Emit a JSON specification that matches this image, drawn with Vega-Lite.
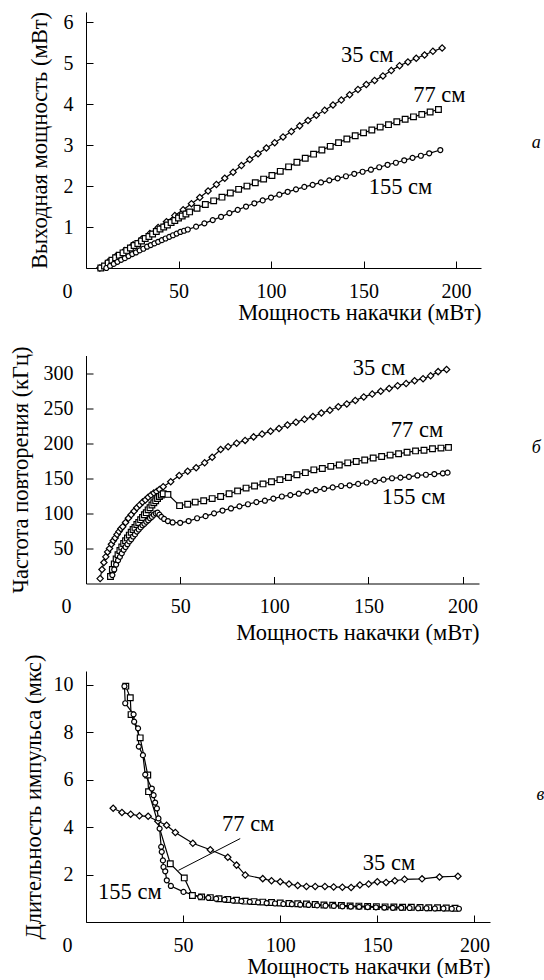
{
  "$schema": "https://vega.github.io/schema/vega-lite/v6.json",
  "background": "white",
  "padding": {"left": 8, "top": 11, "right": 0, "bottom": 0},
  "bounds": "flush",
  "spacing": 87.5,
  "config": {
    "view": {"stroke": null},
    "font": "Liberation Serif, DejaVu Serif, serif",
    "axis": {
      "domainColor": "black", "tickColor": "black", "labelColor": "black", "titleColor": "black",
      "labelFont": "Liberation Serif, DejaVu Serif, serif", "titleFont": "Liberation Serif, DejaVu Serif, serif",
      "labelFontSize": 20, "titleFontSize": 22.5, "titleFontWeight": "normal",
      "grid": false, "tickSize": -7, "domainWidth": 1, "tickWidth": 1,
      "labelOverlap": false
    },
    "text": {"font": "Liberation Serif, DejaVu Serif, serif", "color": "black"}
  },
  "datasets": {
    "a": [
      {"s":"35 см","x":7.5,"y":0},{"s":"35 см","x":12,"y":0.15},{"s":"35 см","x":16.5,"y":0.3},{"s":"35 см","x":21,"y":0.43},{"s":"35 см","x":25.5,"y":0.57},{"s":"35 см","x":30,"y":0.7},{"s":"35 см","x":34.5,"y":0.84},{"s":"35 см","x":39,"y":0.99},{"s":"35 см","x":43.5,"y":1.13},{"s":"35 см","x":48,"y":1.28},{"s":"35 см","x":52.5,"y":1.42},{"s":"35 см","x":57,"y":1.57},{"s":"35 см","x":61.5,"y":1.72},{"s":"35 см","x":66,"y":1.88},{"s":"35 см","x":70.5,"y":2.04},{"s":"35 см","x":75,"y":2.19},{"s":"35 см","x":79.5,"y":2.34},{"s":"35 см","x":84,"y":2.5},{"s":"35 см","x":88.5,"y":2.65},{"s":"35 см","x":93,"y":2.79},{"s":"35 см","x":97.5,"y":2.93},{"s":"35 см","x":102,"y":3.06},{"s":"35 см","x":106.5,"y":3.2},{"s":"35 см","x":111,"y":3.33},{"s":"35 см","x":115.5,"y":3.47},{"s":"35 см","x":120,"y":3.6},{"s":"35 см","x":124.5,"y":3.73},{"s":"35 см","x":129,"y":3.85},{"s":"35 см","x":133.5,"y":3.98},{"s":"35 см","x":138,"y":4.1},{"s":"35 см","x":142.5,"y":4.23},{"s":"35 см","x":147,"y":4.36},{"s":"35 см","x":151.5,"y":4.48},{"s":"35 см","x":156,"y":4.58},{"s":"35 см","x":160.5,"y":4.69},{"s":"35 см","x":165,"y":4.82},{"s":"35 см","x":169.5,"y":4.94},{"s":"35 см","x":174,"y":5.03},{"s":"35 см","x":178.5,"y":5.12},{"s":"35 см","x":183,"y":5.2},{"s":"35 см","x":187.5,"y":5.29},{"s":"35 см","x":192.5,"y":5.37},
      {"s":"77 см","x":8,"y":0},{"s":"77 см","x":10,"y":0.05},{"s":"77 см","x":12,"y":0.12},{"s":"77 см","x":14,"y":0.19},{"s":"77 см","x":16,"y":0.25},{"s":"77 см","x":18,"y":0.31},{"s":"77 см","x":20,"y":0.37},{"s":"77 см","x":22,"y":0.43},{"s":"77 см","x":24,"y":0.49},{"s":"77 см","x":26,"y":0.55},{"s":"77 см","x":28,"y":0.6},{"s":"77 см","x":30,"y":0.66},{"s":"77 см","x":32,"y":0.72},{"s":"77 см","x":34,"y":0.77},{"s":"77 см","x":36,"y":0.83},{"s":"77 см","x":38,"y":0.89},{"s":"77 см","x":40,"y":0.95},{"s":"77 см","x":42,"y":1.0},{"s":"77 см","x":44,"y":1.05},{"s":"77 см","x":46,"y":1.11},{"s":"77 см","x":48,"y":1.16},{"s":"77 см","x":50,"y":1.22},{"s":"77 см","x":52,"y":1.27},{"s":"77 см","x":54,"y":1.32},{"s":"77 см","x":56,"y":1.37},{"s":"77 см","x":60,"y":1.46},{"s":"77 см","x":64.5,"y":1.55},{"s":"77 см","x":69,"y":1.64},{"s":"77 см","x":73.5,"y":1.73},{"s":"77 см","x":78,"y":1.83},{"s":"77 см","x":82.5,"y":1.92},{"s":"77 см","x":87,"y":2.0},{"s":"77 см","x":91.5,"y":2.08},{"s":"77 см","x":96,"y":2.17},{"s":"77 см","x":100.5,"y":2.26},{"s":"77 см","x":105,"y":2.36},{"s":"77 см","x":109.5,"y":2.47},{"s":"77 см","x":114,"y":2.58},{"s":"77 см","x":118.5,"y":2.68},{"s":"77 см","x":123,"y":2.78},{"s":"77 см","x":127.5,"y":2.88},{"s":"77 см","x":132,"y":2.97},{"s":"77 см","x":136.5,"y":3.06},{"s":"77 см","x":141,"y":3.15},{"s":"77 см","x":145.5,"y":3.23},{"s":"77 см","x":150,"y":3.3},{"s":"77 см","x":154.5,"y":3.37},{"s":"77 см","x":159,"y":3.44},{"s":"77 см","x":163.5,"y":3.5},{"s":"77 см","x":168,"y":3.57},{"s":"77 см","x":172.5,"y":3.63},{"s":"77 см","x":177,"y":3.69},{"s":"77 см","x":181.5,"y":3.75},{"s":"77 см","x":186,"y":3.81},{"s":"77 см","x":190.5,"y":3.87},
      {"s":"155 см","x":11,"y":0},{"s":"155 см","x":13,"y":0.05},{"s":"155 см","x":15,"y":0.1},{"s":"155 см","x":17,"y":0.15},{"s":"155 см","x":19,"y":0.2},{"s":"155 см","x":21,"y":0.24},{"s":"155 см","x":23,"y":0.29},{"s":"155 см","x":25,"y":0.34},{"s":"155 см","x":27,"y":0.38},{"s":"155 см","x":29,"y":0.43},{"s":"155 см","x":31,"y":0.47},{"s":"155 см","x":33,"y":0.52},{"s":"155 см","x":35,"y":0.56},{"s":"155 см","x":37,"y":0.6},{"s":"155 см","x":39,"y":0.64},{"s":"155 см","x":41,"y":0.68},{"s":"155 см","x":43,"y":0.72},{"s":"155 см","x":45,"y":0.76},{"s":"155 см","x":47,"y":0.8},{"s":"155 см","x":49,"y":0.84},{"s":"155 см","x":51,"y":0.88},{"s":"155 см","x":53,"y":0.91},{"s":"155 см","x":55,"y":0.94},{"s":"155 см","x":59.5,"y":1.01},{"s":"155 см","x":64,"y":1.09},{"s":"155 см","x":68.5,"y":1.17},{"s":"155 см","x":73,"y":1.25},{"s":"155 см","x":77.5,"y":1.34},{"s":"155 см","x":82,"y":1.42},{"s":"155 см","x":86.5,"y":1.5},{"s":"155 см","x":91,"y":1.58},{"s":"155 см","x":95.5,"y":1.65},{"s":"155 см","x":100,"y":1.72},{"s":"155 см","x":104.5,"y":1.79},{"s":"155 см","x":109,"y":1.86},{"s":"155 см","x":113.5,"y":1.92},{"s":"155 см","x":118,"y":1.98},{"s":"155 см","x":122.5,"y":2.03},{"s":"155 см","x":127,"y":2.09},{"s":"155 см","x":131.5,"y":2.14},{"s":"155 см","x":136,"y":2.19},{"s":"155 см","x":140.5,"y":2.24},{"s":"155 см","x":145,"y":2.3},{"s":"155 см","x":149.5,"y":2.35},{"s":"155 см","x":154,"y":2.4},{"s":"155 см","x":158.5,"y":2.46},{"s":"155 см","x":163,"y":2.52},{"s":"155 см","x":167.5,"y":2.57},{"s":"155 см","x":172,"y":2.63},{"s":"155 см","x":176.5,"y":2.69},{"s":"155 см","x":181,"y":2.74},{"s":"155 см","x":185.5,"y":2.8},{"s":"155 см","x":191.5,"y":2.88}
    ],
    "b": [
      {"s":"35 см","x":7.5,"y":7},{"s":"35 см","x":8.5,"y":20},{"s":"35 см","x":9.5,"y":30},{"s":"35 см","x":10.5,"y":38},{"s":"35 см","x":11.5,"y":45},{"s":"35 см","x":12.5,"y":50},{"s":"35 см","x":13.5,"y":56},{"s":"35 см","x":14.5,"y":61},{"s":"35 см","x":15.5,"y":65},{"s":"35 см","x":16.5,"y":70},{"s":"35 см","x":17.5,"y":74},{"s":"35 см","x":18.5,"y":78},{"s":"35 см","x":19.5,"y":81},{"s":"35 см","x":21,"y":87},{"s":"35 см","x":22.5,"y":93},{"s":"35 см","x":24,"y":98},{"s":"35 см","x":25.5,"y":103},{"s":"35 см","x":27,"y":108},{"s":"35 см","x":28.5,"y":112},{"s":"35 см","x":30,"y":116},{"s":"35 см","x":31.5,"y":119},{"s":"35 см","x":33,"y":123},{"s":"35 см","x":34.5,"y":126},{"s":"35 см","x":36,"y":129},{"s":"35 см","x":37.5,"y":131},{"s":"35 см","x":39,"y":134},{"s":"35 см","x":41,"y":138},{"s":"35 см","x":45,"y":145},{"s":"35 см","x":49.5,"y":154},{"s":"35 см","x":54,"y":160},{"s":"35 см","x":58.5,"y":165},{"s":"35 см","x":63,"y":172},{"s":"35 см","x":67,"y":180},{"s":"35 см","x":71.5,"y":191},{"s":"35 см","x":75.5,"y":195},{"s":"35 см","x":80,"y":200},{"s":"35 см","x":84.5,"y":204},{"s":"35 см","x":89,"y":209},{"s":"35 см","x":93.5,"y":213},{"s":"35 см","x":98,"y":217},{"s":"35 см","x":102.5,"y":221},{"s":"35 см","x":107,"y":226},{"s":"35 см","x":111.5,"y":230},{"s":"35 см","x":116,"y":234},{"s":"35 см","x":120.5,"y":238},{"s":"35 см","x":125,"y":243},{"s":"35 см","x":129.5,"y":247},{"s":"35 см","x":134,"y":252},{"s":"35 см","x":138.5,"y":256},{"s":"35 см","x":143,"y":261},{"s":"35 см","x":147.5,"y":266},{"s":"35 см","x":152,"y":270},{"s":"35 см","x":156.5,"y":274},{"s":"35 см","x":161,"y":278},{"s":"35 см","x":165.5,"y":282},{"s":"35 см","x":170,"y":285},{"s":"35 см","x":174.5,"y":289},{"s":"35 см","x":179,"y":292},{"s":"35 см","x":183,"y":296},{"s":"35 см","x":187,"y":302},{"s":"35 см","x":191.5,"y":305},
      {"s":"77 см","x":13,"y":10},{"s":"77 см","x":14,"y":20},{"s":"77 см","x":15,"y":28},{"s":"77 см","x":16,"y":35},{"s":"77 см","x":17,"y":41},{"s":"77 см","x":18,"y":47},{"s":"77 см","x":19,"y":52},{"s":"77 см","x":20,"y":57},{"s":"77 см","x":21,"y":61},{"s":"77 см","x":22,"y":65},{"s":"77 см","x":23,"y":69},{"s":"77 см","x":24,"y":73},{"s":"77 см","x":25,"y":77},{"s":"77 см","x":26,"y":80},{"s":"77 см","x":27,"y":84},{"s":"77 см","x":28,"y":87},{"s":"77 см","x":29,"y":91},{"s":"77 см","x":30,"y":94},{"s":"77 см","x":31,"y":98},{"s":"77 см","x":32,"y":101},{"s":"77 см","x":33,"y":105},{"s":"77 см","x":34,"y":108},{"s":"77 см","x":35,"y":112},{"s":"77 см","x":36,"y":115},{"s":"77 см","x":37,"y":118},{"s":"77 см","x":38,"y":121},{"s":"77 см","x":39,"y":124},{"s":"77 см","x":40,"y":126},{"s":"77 см","x":41,"y":128},{"s":"77 см","x":43.5,"y":127},{"s":"77 см","x":49.7,"y":111},{"s":"77 см","x":54,"y":113},{"s":"77 см","x":58,"y":116},{"s":"77 см","x":62.5,"y":118},{"s":"77 см","x":67,"y":121},{"s":"77 см","x":71.5,"y":124},{"s":"77 см","x":76,"y":128},{"s":"77 см","x":80.5,"y":132},{"s":"77 см","x":85,"y":136},{"s":"77 см","x":89.5,"y":139},{"s":"77 см","x":94,"y":142},{"s":"77 см","x":98.5,"y":145},{"s":"77 см","x":103,"y":148},{"s":"77 см","x":107.5,"y":151},{"s":"77 см","x":112,"y":155},{"s":"77 см","x":116.5,"y":158},{"s":"77 см","x":121,"y":162},{"s":"77 см","x":125.5,"y":164},{"s":"77 см","x":130,"y":167},{"s":"77 см","x":134.5,"y":169},{"s":"77 см","x":139,"y":172},{"s":"77 см","x":143.5,"y":174},{"s":"77 см","x":148,"y":176},{"s":"77 см","x":152.5,"y":179},{"s":"77 см","x":157,"y":181},{"s":"77 см","x":161.5,"y":183},{"s":"77 см","x":166,"y":185},{"s":"77 см","x":170.5,"y":187},{"s":"77 см","x":175,"y":189},{"s":"77 см","x":179.5,"y":190},{"s":"77 см","x":184,"y":192},{"s":"77 см","x":188.5,"y":193},{"s":"77 см","x":192.5,"y":194},
      {"s":"155 см","x":14,"y":12},{"s":"155 см","x":15,"y":20},{"s":"155 см","x":16,"y":27},{"s":"155 см","x":17,"y":33},{"s":"155 см","x":18,"y":38},{"s":"155 см","x":19,"y":43},{"s":"155 см","x":20,"y":48},{"s":"155 см","x":21,"y":52},{"s":"155 см","x":22,"y":56},{"s":"155 см","x":23,"y":60},{"s":"155 см","x":24,"y":63},{"s":"155 см","x":25,"y":67},{"s":"155 см","x":26,"y":70},{"s":"155 см","x":27,"y":74},{"s":"155 см","x":28,"y":77},{"s":"155 см","x":29,"y":80},{"s":"155 см","x":30,"y":83},{"s":"155 см","x":31,"y":85},{"s":"155 см","x":32,"y":88},{"s":"155 см","x":33,"y":90},{"s":"155 см","x":34,"y":93},{"s":"155 см","x":35,"y":95},{"s":"155 см","x":36,"y":98},{"s":"155 см","x":37,"y":100},{"s":"155 см","x":38,"y":101},{"s":"155 см","x":39,"y":98},{"s":"155 см","x":40,"y":95},{"s":"155 см","x":41.5,"y":92},{"s":"155 см","x":43.5,"y":89},{"s":"155 см","x":46,"y":87},{"s":"155 см","x":50,"y":86.5},{"s":"155 см","x":54.5,"y":89},{"s":"155 см","x":59,"y":93},{"s":"155 см","x":63.5,"y":96},{"s":"155 см","x":68,"y":100},{"s":"155 см","x":72.5,"y":104},{"s":"155 см","x":77,"y":107},{"s":"155 см","x":81.5,"y":110},{"s":"155 см","x":86,"y":113},{"s":"155 см","x":90.5,"y":116},{"s":"155 см","x":95,"y":118},{"s":"155 см","x":99.5,"y":121},{"s":"155 см","x":104,"y":124},{"s":"155 см","x":108.5,"y":126},{"s":"155 см","x":113,"y":128},{"s":"155 см","x":117.5,"y":131},{"s":"155 см","x":122,"y":133},{"s":"155 см","x":126.5,"y":135},{"s":"155 см","x":131,"y":137},{"s":"155 см","x":135.5,"y":139},{"s":"155 см","x":140,"y":140},{"s":"155 см","x":144.5,"y":142},{"s":"155 см","x":149,"y":144},{"s":"155 см","x":153.5,"y":146},{"s":"155 см","x":158,"y":148},{"s":"155 см","x":162.5,"y":150},{"s":"155 см","x":167,"y":151},{"s":"155 см","x":171.5,"y":152},{"s":"155 см","x":176,"y":154},{"s":"155 см","x":180.5,"y":155},{"s":"155 см","x":185,"y":156},{"s":"155 см","x":189.5,"y":157},{"s":"155 см","x":192,"y":158}
    ],
    "c": [
      {"s":"35 см","x":14,"y":4.8},{"s":"35 см","x":18.5,"y":4.62},{"s":"35 см","x":23,"y":4.55},{"s":"35 см","x":27.5,"y":4.48},{"s":"35 см","x":32,"y":4.46},{"s":"35 см","x":37,"y":4.25},{"s":"35 см","x":41.5,"y":4.08},{"s":"35 см","x":46,"y":3.78},{"s":"35 см","x":55,"y":3.32},{"s":"35 см","x":64,"y":3.05},{"s":"35 см","x":73,"y":2.73},{"s":"35 см","x":77.5,"y":2.4},{"s":"35 см","x":82,"y":1.98},{"s":"35 см","x":91,"y":1.83},{"s":"35 см","x":95.5,"y":1.74},{"s":"35 см","x":100,"y":1.7},{"s":"35 см","x":104.5,"y":1.6},{"s":"35 см","x":109,"y":1.54},{"s":"35 см","x":113.5,"y":1.5},{"s":"35 см","x":118,"y":1.5},{"s":"35 см","x":123,"y":1.5},{"s":"35 см","x":127.5,"y":1.48},{"s":"35 см","x":132,"y":1.47},{"s":"35 см","x":136.5,"y":1.46},{"s":"35 см","x":141,"y":1.56},{"s":"35 см","x":145.5,"y":1.6},{"s":"35 см","x":150,"y":1.7},{"s":"35 см","x":154.5,"y":1.67},{"s":"35 см","x":159,"y":1.74},{"s":"35 см","x":164,"y":1.8},{"s":"35 см","x":173,"y":1.82},{"s":"35 см","x":182,"y":1.9},{"s":"35 см","x":191.5,"y":1.93},
      {"s":"77 см","x":20.5,"y":9.95},{"s":"77 см","x":22.8,"y":9.46},{"s":"77 см","x":23.2,"y":8.75},{"s":"77 см","x":27.9,"y":7.77},{"s":"77 см","x":31.8,"y":6.2},{"s":"77 см","x":32.2,"y":5.5},{"s":"77 см","x":43.4,"y":2.46},{"s":"77 см","x":50.6,"y":1.86},{"s":"77 см","x":54.8,"y":1.12},{"s":"77 см","x":59.5,"y":1.06},{"s":"77 см","x":64,"y":1.03},{"s":"77 см","x":68.5,"y":0.98},{"s":"77 см","x":73,"y":0.95},{"s":"77 см","x":77.5,"y":0.92},{"s":"77 см","x":82,"y":0.88},{"s":"77 см","x":86.5,"y":0.86},{"s":"77 см","x":91,"y":0.84},{"s":"77 см","x":95.5,"y":0.82},{"s":"77 см","x":100,"y":0.8},{"s":"77 см","x":104.5,"y":0.78},{"s":"77 см","x":109,"y":0.77},{"s":"77 см","x":113.5,"y":0.76},{"s":"77 см","x":118,"y":0.74},{"s":"77 см","x":122.5,"y":0.72},{"s":"77 см","x":127,"y":0.71},{"s":"77 см","x":131.5,"y":0.7},{"s":"77 см","x":136,"y":0.68},{"s":"77 см","x":140.5,"y":0.67},{"s":"77 см","x":145,"y":0.66},{"s":"77 см","x":149.5,"y":0.65},{"s":"77 см","x":154,"y":0.64},{"s":"77 см","x":158.5,"y":0.63},{"s":"77 см","x":163,"y":0.62},{"s":"77 см","x":167.5,"y":0.62},{"s":"77 см","x":172,"y":0.61},{"s":"77 см","x":176.5,"y":0.6},{"s":"77 см","x":181,"y":0.6},{"s":"77 см","x":185.5,"y":0.59},{"s":"77 см","x":190,"y":0.58},
      {"s":"155 см","x":19.8,"y":9.95},{"s":"155 см","x":20.2,"y":9.23},{"s":"155 см","x":24.5,"y":8.76},{"s":"155 см","x":24.8,"y":8.45},{"s":"155 см","x":26.8,"y":8.17},{"s":"155 см","x":27.2,"y":7.4},{"s":"155 см","x":29.3,"y":7.04},{"s":"155 см","x":30.5,"y":6.22},{"s":"155 см","x":33.9,"y":5.63},{"s":"155 см","x":34.8,"y":5.35},{"s":"155 см","x":35.6,"y":5.04},{"s":"155 см","x":36.5,"y":4.79},{"s":"155 см","x":37.3,"y":4.37},{"s":"155 см","x":37.9,"y":3.94},{"s":"155 см","x":38.7,"y":3.17},{"s":"155 см","x":39,"y":2.96},{"s":"155 см","x":39.6,"y":2.6},{"s":"155 см","x":39.9,"y":2.32},{"s":"155 см","x":40.8,"y":2.14},{"s":"155 см","x":41.6,"y":1.76},{"s":"155 см","x":43.7,"y":1.52},{"s":"155 см","x":50.2,"y":1.27},{"s":"155 см","x":58.8,"y":1.06},{"s":"155 см","x":63,"y":1.02},{"s":"155 см","x":67,"y":0.98},{"s":"155 см","x":71.3,"y":0.94},{"s":"155 см","x":75.6,"y":0.9},{"s":"155 см","x":80,"y":0.88},{"s":"155 см","x":84.3,"y":0.85},{"s":"155 см","x":88.6,"y":0.83},{"s":"155 см","x":93,"y":0.8},{"s":"155 см","x":97.3,"y":0.78},{"s":"155 см","x":101.6,"y":0.76},{"s":"155 см","x":106,"y":0.75},{"s":"155 см","x":110.3,"y":0.73},{"s":"155 см","x":114.6,"y":0.72},{"s":"155 см","x":119,"y":0.7},{"s":"155 см","x":123.3,"y":0.69},{"s":"155 см","x":127.6,"y":0.68},{"s":"155 см","x":132,"y":0.66},{"s":"155 см","x":136.3,"y":0.65},{"s":"155 см","x":140.6,"y":0.64},{"s":"155 см","x":145,"y":0.63},{"s":"155 см","x":149.3,"y":0.62},{"s":"155 см","x":153.6,"y":0.61},{"s":"155 см","x":158,"y":0.6},{"s":"155 см","x":162.3,"y":0.6},{"s":"155 см","x":166.6,"y":0.59},{"s":"155 см","x":171,"y":0.58},{"s":"155 см","x":175.3,"y":0.58},{"s":"155 см","x":179.6,"y":0.57},{"s":"155 см","x":184,"y":0.57},{"s":"155 см","x":188.3,"y":0.56},{"s":"155 см","x":192,"y":0.56}
    ],
    "lab": [
      {"p":"a","t":"35 см","x":152,"y":5.2},{"p":"a","t":"77 см","x":191,"y":4.22},{"p":"a","t":"155 см","x":170,"y":1.98},
      {"p":"b","t":"35 см","x":155.6,"y":307},{"p":"b","t":"77 см","x":175.8,"y":219},{"p":"b","t":"155 см","x":174,"y":123.7},
      {"p":"c","t":"77 см","x":83.5,"y":4.12},{"p":"c","t":"35 см","x":156,"y":2.5},{"p":"c","t":"155 см","x":22.6,"y":1.27}
    ],
    "let": [
      {"p":"a","t":"а","x":243.4,"y":3.04},{"p":"b","t":"б","x":239.1,"y":192.9},{"p":"c","t":"в","x":234,"y":5.35}
    ],
    "lead": [
      {"x":47.6,"y":2.18,"x2":79.4,"y2":3.52}
    ]
  },
  "vconcat": [
    {
      "width": 395, "height": 256,
      "layer": [
        {
          "data": {"name": "a"},
          "mark": {"type": "line", "color": "black", "strokeWidth": 1.2},
          "encoding": {
            "x": {"field": "x", "type": "quantitative", "scale": {"domain": [0, 213.5], "nice": false, "zero": false},
              "axis": {"title": "Мощность накачки (мВт)", "titleAnchor": "end", "values": [0, 50, 100, 150, 200], "labelFlush": false, "labelPadding": 20, "titlePadding": 0,
                "labelOffset": {"condition": {"test": "datum.value === 0", "value": -19}, "value": 0}}},
            "y": {"field": "y", "type": "quantitative", "scale": {"domain": [0, 6.25], "nice": false},
              "axis": {"title": "Выходная мощность (мВт)", "values": [1, 2, 3, 4, 5, 6], "labelPadding": 20, "titlePadding": 12}},
            "detail": {"field": "s"}
          }
        },
        {
          "data": {"name": "a"},
          "mark": {"type": "point", "fill": "white", "stroke": "black", "strokeWidth": 1.2, "opacity": 1, "filled": false},
          "encoding": {
            "x": {"field": "x", "type": "quantitative", "scale": {"domain": [0, 213.5], "nice": false, "zero": false}},
            "y": {"field": "y", "type": "quantitative", "scale": {"domain": [0, 6.25], "nice": false}},
            "shape": {"field": "s", "type": "nominal", "scale": {"domain": ["35 см", "77 см", "155 см"], "range": ["diamond", "square", "circle"]}, "legend": null},
            "size": {"field": "s", "type": "nominal", "scale": {"domain": ["35 см", "77 см", "155 см"], "range": [40, 25, 22]}, "legend": null}
          }
        },
        {
          "data": {"name": "lab"},
          "transform": [{"filter": "datum.p === 'a'"}],
          "mark": {"type": "text", "fontSize": 22.5, "baseline": "middle", "align": "center"},
          "encoding": {
            "x": {"field": "x", "type": "quantitative"},
            "y": {"field": "y", "type": "quantitative"},
            "text": {"field": "t"}
          }
        },
        {
          "data": {"name": "let"},
          "transform": [{"filter": "datum.p === 'a'"}],
          "mark": {"type": "text", "fontSize": 18, "fontStyle": "italic", "baseline": "middle", "align": "center"},
          "encoding": {
            "x": {"field": "x", "type": "quantitative"},
            "y": {"field": "y", "type": "quantitative"},
            "text": {"field": "t"}
          }
        }
      ]
    },
    {
      "width": 393, "height": 228,
      "layer": [
        {
          "data": {"name": "b"},
          "mark": {"type": "line", "color": "black", "strokeWidth": 1.2},
          "encoding": {
            "x": {"field": "x", "type": "quantitative", "scale": {"domain": [0, 208.7], "nice": false, "zero": false},
              "axis": {"title": "Мощность накачки (мВт)", "titleAnchor": "end", "values": [0, 50, 100, 150, 200], "labelFlush": false, "labelPadding": 20, "titlePadding": 5,
                "labelOffset": {"condition": {"test": "datum.value === 0", "value": -20}, "value": 0}}},
            "y": {"field": "y", "type": "quantitative", "scale": {"domain": [0, 325], "nice": false},
              "axis": {"title": "Частота повторения (кГц)", "values": [50, 100, 150, 200, 250, 300], "labelPadding": 20, "titlePadding": 11}},
            "detail": {"field": "s"}
          }
        },
        {
          "data": {"name": "b"},
          "mark": {"type": "point", "fill": "white", "stroke": "black", "strokeWidth": 1.2, "opacity": 1, "filled": false},
          "encoding": {
            "x": {"field": "x", "type": "quantitative", "scale": {"domain": [0, 208.7], "nice": false, "zero": false}},
            "y": {"field": "y", "type": "quantitative", "scale": {"domain": [0, 325], "nice": false}},
            "shape": {"field": "s", "type": "nominal", "scale": {"domain": ["35 см", "77 см", "155 см"], "range": ["diamond", "square", "circle"]}, "legend": null},
            "size": {"field": "s", "type": "nominal", "scale": {"domain": ["35 см", "77 см", "155 см"], "range": [40, 25, 22]}, "legend": null}
          }
        },
        {
          "data": {"name": "lab"},
          "transform": [{"filter": "datum.p === 'b'"}],
          "mark": {"type": "text", "fontSize": 22.5, "baseline": "middle", "align": "center"},
          "encoding": {
            "x": {"field": "x", "type": "quantitative"},
            "y": {"field": "y", "type": "quantitative"},
            "text": {"field": "t"}
          }
        },
        {
          "data": {"name": "let"},
          "transform": [{"filter": "datum.p === 'b'"}],
          "mark": {"type": "text", "fontSize": 18, "fontStyle": "italic", "baseline": "middle", "align": "center"},
          "encoding": {
            "x": {"field": "x", "type": "quantitative"},
            "y": {"field": "y", "type": "quantitative"},
            "text": {"field": "t"}
          }
        }
      ]
    },
    {
      "width": 404, "height": 251,
      "layer": [
        {
          "data": {"name": "c"},
          "mark": {"type": "line", "color": "black", "strokeWidth": 1.2},
          "encoding": {
            "x": {"field": "x", "type": "quantitative", "scale": {"domain": [0, 208], "nice": false, "zero": false},
              "axis": {"title": "Мощность накачки (мВт)", "titleAnchor": "end", "values": [0, 50, 100, 150, 200], "labelFlush": false, "labelPadding": 20, "titlePadding": 0,
                "labelOffset": {"condition": {"test": "datum.value === 0", "value": -19}, "value": 0}}},
            "y": {"field": "y", "type": "quantitative", "scale": {"domain": [0, 10.59], "nice": false},
              "axis": {"title": "Длительность импульса (мкс)", "values": [2, 4, 6, 8, 10], "labelPadding": 20, "titlePadding": 7.5}},
            "detail": {"field": "s"}
          }
        },
        {
          "data": {"name": "c"},
          "mark": {"type": "point", "fill": "white", "stroke": "black", "strokeWidth": 1.2, "opacity": 1, "filled": false},
          "encoding": {
            "x": {"field": "x", "type": "quantitative", "scale": {"domain": [0, 208], "nice": false, "zero": false}},
            "y": {"field": "y", "type": "quantitative", "scale": {"domain": [0, 10.59], "nice": false}},
            "shape": {"field": "s", "type": "nominal", "scale": {"domain": ["35 см", "77 см", "155 см"], "range": ["diamond", "square", "circle"]}, "legend": null},
            "size": {"field": "s", "type": "nominal", "scale": {"domain": ["35 см", "77 см", "155 см"], "range": [40, 25, 22]}, "legend": null}
          }
        },
        {
          "data": {"name": "lead"},
          "mark": {"type": "rule", "color": "black", "strokeWidth": 1},
          "encoding": {
            "x": {"field": "x", "type": "quantitative"},
            "y": {"field": "y", "type": "quantitative"},
            "x2": {"field": "x2"},
            "y2": {"field": "y2"}
          }
        },
        {
          "data": {"name": "lab"},
          "transform": [{"filter": "datum.p === 'c'"}],
          "mark": {"type": "text", "fontSize": 22.5, "baseline": "middle", "align": "center"},
          "encoding": {
            "x": {"field": "x", "type": "quantitative"},
            "y": {"field": "y", "type": "quantitative"},
            "text": {"field": "t"}
          }
        },
        {
          "data": {"name": "let"},
          "transform": [{"filter": "datum.p === 'c'"}],
          "mark": {"type": "text", "fontSize": 18, "fontStyle": "italic", "baseline": "middle", "align": "center"},
          "encoding": {
            "x": {"field": "x", "type": "quantitative"},
            "y": {"field": "y", "type": "quantitative"},
            "text": {"field": "t"}
          }
        }
      ]
    }
  ]
}
